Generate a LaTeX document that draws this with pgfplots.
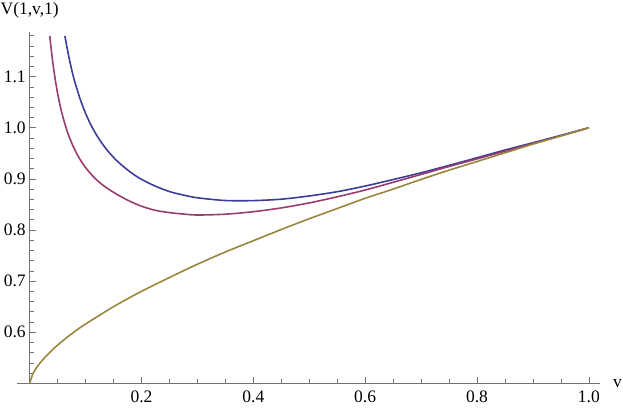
\documentclass[border=0pt]{standalone}
\usepackage{pgfplots}
\pgfplotsset{compat=1.18}
\usepackage{fontspec}
\setmainfont{Liberation Serif}

\definecolor{mblue}{rgb}{0.24,0.24,0.6}
\definecolor{mpurple}{rgb}{0.6,0.24,0.442}
\definecolor{mgold}{rgb}{0.6,0.525,0.24}
\definecolor{axgray}{gray}{0.45}

\begin{document}
\fontsize{17.5}{20}\selectfont
\begin{tikzpicture}
\begin{axis}[
  name=ax,
  scale only axis,
  width=570.3pt, height=351.6pt,
  xmin=0, xmax=1.02,
  ymin=0.5, ymax=1.188,
  axis lines=left,
  axis line style={-, axgray, line width=0.6pt},
  tick align=inside,
  tick style={axgray, line width=0.6pt},
  major tick length=6.5pt,
  minor tick length=4pt,
  xtick={0.2,0.4,0.6,0.8,1.0},
  xticklabels={0.2,0.4,0.6,0.8,1.0},
  minor xtick={0.05,0.1,0.15,0.25,0.3,0.35,0.45,0.5,0.55,0.65,0.7,0.75,0.85,0.9,0.95},
  ytick={0.6,0.7,0.8,0.9,1.0,1.1},
  yticklabels={0.6,0.7,0.8,0.9,1.0,1.1},
  minor ytick={0.52,0.54,0.56,0.58,0.62,0.64,0.66,0.68,0.72,0.74,0.76,0.78,0.82,0.84,0.86,0.88,0.92,0.94,0.96,0.98,1.02,1.04,1.06,1.08,1.12,1.14,1.16,1.18},
  /pgf/number format/assume math mode=true,
  ticklabel style={font=\fontsize{17.5}{20}\selectfont},
  xticklabel style={yshift=-1.5pt},
  yticklabel style={xshift=2pt},
  clip=false,
]
% blue series
\addplot[mblue, line width=1.6pt, smooth] coordinates {
(0.063,1.1795) (0.065,1.167) (0.070,1.139) (0.075,1.114) (0.080,1.0925)
(0.090,1.057) (0.100,1.028) (0.110,1.0045) (0.120,0.985) (0.130,0.9685)
(0.140,0.9543) (0.150,0.942) (0.160,0.9313) (0.180,0.9133) (0.200,0.899)
(0.225,0.8857) (0.250,0.8752) (0.275,0.8683) (0.300,0.863) (0.350,0.8577)
(0.400,0.8575) (0.450,0.8603) (0.500,0.8666) (0.550,0.8749) (0.600,0.886)
(0.650,0.8987) (0.700,0.9119) (0.750,0.9264) (0.800,0.9413) (0.850,0.9564)
(0.900,0.9707) (0.950,0.9852) (1.000,1.000)
};
% purple series
\addplot[mpurple, line width=1.6pt, smooth] coordinates {
(0.036,1.1798) (0.038,1.1586) (0.040,1.1395) (0.043,1.1142) (0.046,1.0922)
(0.050,1.067) (0.055,1.0406) (0.060,1.0187) (0.065,1.0001) (0.070,0.9841)
(0.080,0.9583) (0.090,0.9381) (0.100,0.922) (0.115,0.9031) (0.130,0.8885)
(0.150,0.8737) (0.175,0.8584) (0.200,0.8465) (0.225,0.8384) (0.250,0.834)
(0.275,0.8312) (0.300,0.8293) (0.350,0.8309) (0.400,0.8358) (0.450,0.8432)
(0.500,0.853) (0.550,0.8649) (0.600,0.8782) (0.650,0.8933) (0.700,0.9087)
(0.750,0.9243) (0.800,0.9391) (0.850,0.9541) (0.900,0.9691) (0.950,0.9843)
(1.000,1.000)
};
% gold series
\addplot[mgold, line width=1.6pt, smooth] coordinates {
(0,0.500) (0.005,0.517) (0.01,0.527) (0.02,0.542) (0.04,0.565)
(0.06,0.584) (0.08,0.601) (0.10,0.616) (0.15,0.650) (0.20,0.680)
(0.25,0.707) (0.30,0.733) (0.35,0.757) (0.40,0.779) (0.45,0.801)
(0.50,0.822) (0.55,0.842) (0.60,0.862) (0.65,0.880) (0.70,0.899)
(0.75,0.917) (0.80,0.934) (0.85,0.951) (0.90,0.968) (0.95,0.984)
(1.00,1.000)
};
% x axis line runs a little left of the origin
\draw[axgray, line width=0.6pt] (axis cs:0,0.5) -- (axis cs:-0.0225,0.5);
\node[anchor=south, inner sep=0pt] at (rel axis cs:0,1) [yshift=13pt] {V(1,v,1)};
\node[anchor=west, inner sep=0pt] at (rel axis cs:1,0) [xshift=13pt] {v};
\end{axis}
\pgfresetboundingbox
\path (ax.south west) ++(-29.7pt,-24.7pt) rectangle ++(623pt,408pt);
\end{tikzpicture}
\end{document}
